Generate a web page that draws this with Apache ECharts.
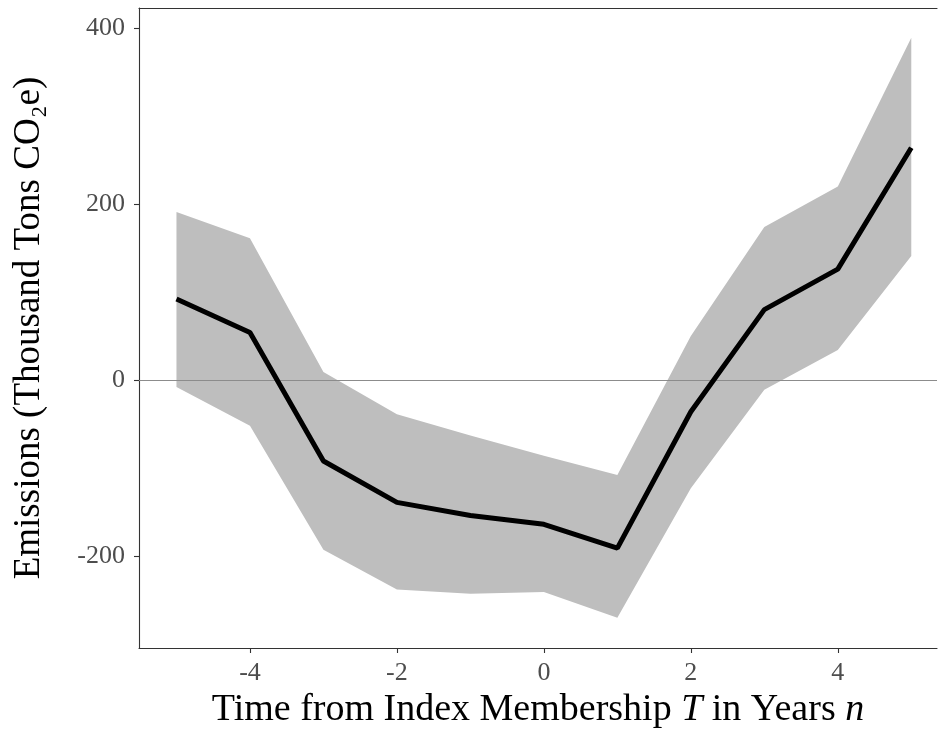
<!DOCTYPE html>
<html><head><meta charset="utf-8">
<script src="https://cdn.jsdelivr.net/npm/echarts@6/dist/echarts.min.js"></script>
<style>html,body{margin:0;padding:0;background:#fff}#c{width:938px;height:751px}</style>
</head><body><div id="c"></div>
<script>
const years = [-5,-4,-3,-2,-1,0,1,2,3,4,5];
const estimate = [92,54,-92,-139,-154,-164,-191,-36,80,126,264];
const upper = [191,161,9,-39,-63,-86,-108,50,174,220,389];
const lower = [-8,-52,-193,-238,-243,-241,-270,-123,-11,34,141];
const xTicks = [-4,-2,0,2,4];
const yTicks = [-200,0,200,400];

const font = 'Liberation Serif, DejaVu Serif, serif';
const chart = echarts.init(document.getElementById('c'), null, {renderer:'canvas'});
const lineData = years.map((x,i)=>[x, estimate[i]]);
const bandData = years.map((x,i)=>[x, lower[i], upper[i]]);

chart.setOption({
  animation:false,
  grid:{left:139, right:1, top:8, bottom:103, containLabel:false, outerBoundsMode:'none'},
  xAxis:[{
    type:'value', min:-5.51, max:5.35,
    name:'{n|Time from Index Membership }{i|T}{n| in Years }{i|n}',
    nameLocation:'middle', nameGap:39,
    nameTextStyle:{rich:{
      n:{fontFamily:font,fontSize:38,color:'#000'},
      i:{fontFamily:font,fontSize:38,color:'#000',fontStyle:'italic'}
    }},
    axisLine:{show:true,onZero:false,lineStyle:{color:'#333',width:1.1}},
    axisTick:{show:true,length:5,customValues:xTicks,lineStyle:{color:'#333',width:1.1}},
    axisLabel:{customValues:xTicks,fontFamily:font,fontSize:26,color:'#4d4d4d',margin:12},
    splitLine:{show:false}
  },{
    type:'value', position:'top', min:-5.51, max:5.35,
    axisLine:{show:true,onZero:false,lineStyle:{color:'#333',width:1.1}},
    axisTick:{show:false}, axisLabel:{show:false}, splitLine:{show:false}
  }],
  yAxis:{
    type:'value', min:-304.5, max:422.7,
    name:'Emissions (Thousand Tons CO₂e)',
    nameLocation:'middle', nameGap:91,
    nameTextStyle:{fontFamily:font,fontSize:37,color:'#000'},
    axisLine:{show:true,onZero:false,lineStyle:{color:'#333',width:1.1}},
    axisTick:{show:true,length:5,customValues:yTicks,lineStyle:{color:'#333',width:1.1}},
    axisLabel:{customValues:yTicks,fontFamily:font,fontSize:26,color:'#4d4d4d',margin:14},
    splitLine:{show:false}
  },
  series:[{
    type:'custom',
    data:bandData,
    silent:true,
    z:1,
    renderItem:function(params, api){
      if(params.dataIndex!==0) return null;
      const top = bandData.map(d=>api.coord([d[0], d[2]]));
      const bot = bandData.slice().reverse().map(d=>api.coord([d[0], d[1]]));
      return {type:'polygon', shape:{points:top.concat(bot)}, style:{fill:'#bebebe'}};
    },
    encode:{x:0,y:[1,2]}
  },{
    type:'line',
    data:lineData,
    showSymbol:false,
    z:3,
    lineStyle:{color:'#000',width:5},
    markLine:{silent:true,symbol:'none',label:{show:false},
      lineStyle:{color:'#8c8c8c',width:1.1,type:'solid'},
      data:[{yAxis:0}], z:2}
  }]
});
</script></body></html>
